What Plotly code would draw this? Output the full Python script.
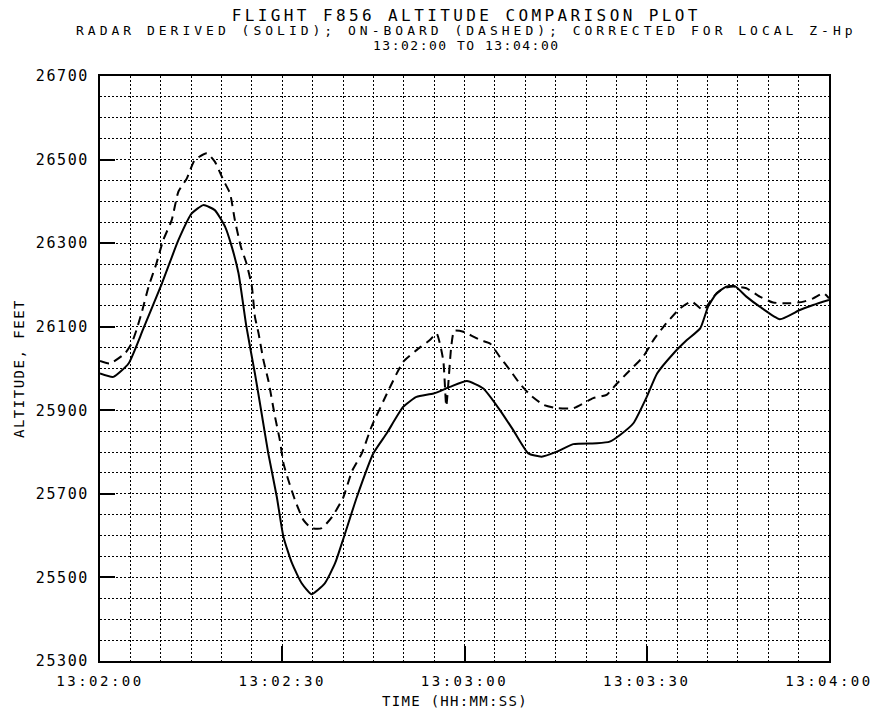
import plotly.graph_objects as go

# radar derived altitude (solid), seconds after 13:02:00
radar_t = [0, 2.2, 4.7, 7.1, 10.2, 12.9, 15.1, 17.0, 18.9, 20.6,
           21.7, 22.8, 24.1, 25.5, 26.6, 27.7, 29.1, 30.2, 31.6, 33.2,
           34.8, 37.0, 38.7, 40.0, 42.3, 45.0, 47.2, 49.9, 52.1, 54.9,
           57.6, 60.4, 63.1, 65.8, 68.0, 70.5, 72.7, 75.2, 77.9, 81.8,
           83.9, 85.6, 87.8, 90.0, 91.7, 94.4, 96.6, 98.8, 100.1, 101.5,
           103.1, 104.5, 106.4, 108.6, 111.9, 115.2, 117.4, 120]
radar_alt = [25988, 25980, 26012, 26094, 26204, 26307, 26371, 26391, 26379, 26339,
             26291, 26228, 26100, 25988, 25893, 25797, 25693, 25597, 25534, 25486,
             25460, 25486, 25534, 25590, 25693, 25797, 25845, 25908, 25932, 25940,
             25956, 25970, 25952, 25901, 25853, 25797, 25789, 25801, 25819, 25821,
             25825, 25841, 25869, 25932, 25988, 26036, 26068, 26096, 26148, 26180,
             26196, 26197, 26172, 26148, 26118, 26140, 26152, 26164]

# on-board altitude (dashed)
board_t = [0, 1.6, 4.1, 5.2, 6.0, 6.9, 8.0, 9.3, 10.4, 11.8,
           12.9, 14.3, 15.6, 17.6, 18.9, 20.3, 21.4, 22.2, 23.2, 24.1,
           25.0, 25.5, 26.1, 26.9, 27.7, 28.8, 29.6, 30.2, 31.0, 32.1,
           33.5, 34.8, 36.5, 38.2, 40.0, 41.5, 43.1, 44.7, 47.5, 49.9,
           52.1, 54.3, 55.4, 56.5, 57.0, 57.8, 58.3, 59.8, 62.6, 64.2,
           65.8, 67.5, 69.1, 70.8, 73.0, 75.2, 77.9, 81.2, 83.4, 85.1,
           86.7, 89.4, 91.1, 93.2, 95.5, 97.4, 99.3, 101.0, 102.6, 104.3,
           106.4, 108.6, 110.8, 113.6, 115.8, 117.4, 119.1, 120]
board_alt = [26018, 26012, 26036, 26060, 26092, 26136, 26196, 26252, 26307, 26355,
             26423, 26455, 26499, 26515, 26495, 26451, 26419, 26355, 26291, 26252,
             26196, 26124, 26084, 26020, 25972, 25885, 25829, 25773, 25733, 25685,
             25637, 25618, 25618, 25645, 25690, 25755, 25797, 25861, 25948, 26016,
             26044, 26068, 26084, 26020, 25910, 26050, 26090, 26088, 26068, 26060,
             26028, 25996, 25964, 25937, 25913, 25905, 25905, 25929, 25937, 25964,
             25988, 26028, 26068, 26108, 26144, 26160, 26140, 26172, 26192, 26196,
             26192, 26172, 26158, 26156, 26160, 26168, 26180, 26168]

x_ticks = [0, 30, 60, 90, 120]
x_labels = ["13:02:00", "13:02:30", "13:03:00", "13:03:30", "13:04:00"]
y_ticks = [25300, 25500, 25700, 25900, 26100, 26300, 26500, 26700]

title_lines = ["FLIGHT F856 ALTITUDE COMPARISON PLOT",
               "RADAR DERIVED (SOLID); ON-BOARD (DASHED); CORRECTED FOR LOCAL Z-Hp",
               "13:02:00 TO 13:04:00"]

FONT = "DejaVu Sans Mono"
PLOT_W, PLOT_H = 729, 585   # plot area in px


def spaced(s, px, size=None):
    st = f"letter-spacing:{px}px"
    if size:
        st += f";font-size:{size}px"
    return f'<span style="{st}">{s}</span>'


def px_x(px):
    # page x pixel -> paper fraction (plot area starts at x=100)
    return (px - 100) / PLOT_W


def px_y(py):
    # page y pixel -> paper fraction (plot area bottom at y=661)
    return (661 - py) / PLOT_H


fig = go.Figure()
fig.add_trace(go.Scatter(x=radar_t, y=radar_alt, mode="lines",
                         line=dict(color="black", width=2, shape="spline", smoothing=0.5)))
fig.add_trace(go.Scatter(x=board_t, y=board_alt, mode="lines",
                         line=dict(color="black", width=2, dash="9px,6px",
                                   shape="spline", smoothing=0.5)))

grid = dict(showgrid=True, gridcolor="black", gridwidth=1, griddash="2px,2px")

fig.update_xaxes(range=[0, 120], tickvals=x_ticks,
                 ticktext=[spaced(s, 2.5) for s in x_labels],
                 ticks="inside", ticklen=15, tickwidth=1.5, tickcolor="black",
                 ticklabelstandoff=6, automargin=False,
                 showline=True, linecolor="black", linewidth=2, mirror=True,
                 zeroline=False,
                 minor=dict(dtick=5, tick0=0, ticks="", **grid), **grid)
fig.update_yaxes(range=[25300, 26700], tickvals=y_ticks,
                 ticktext=[spaced(str(v), 1.6) for v in y_ticks],
                 tickfont=dict(size=15),
                 ticks="inside", ticklen=15, tickwidth=1.5, tickcolor="black",
                 ticklabelstandoff=6, automargin=False,
                 showline=True, linecolor="black", linewidth=2, mirror=True,
                 zeroline=False,
                 minor=dict(dtick=50, tick0=25300, ticks="", **grid), **grid)

# three title lines in one block, line pitch ~14px
title_text = "<br>".join([
    spaced(title_lines[0], 3.4, 16),
    spaced(title_lines[1], 4.0, 13),
    spaced(title_lines[2], 1.5, 13),
])
fig.add_annotation(text=title_text, xref="paper", yref="paper",
                   x=px_x(466), y=px_y(29.5), showarrow=False, yanchor="middle",
                   align="center",
                   font=dict(family=FONT, size=11, color="black"))

fig.add_annotation(text=spaced("TIME (HH:MM:SS)", 1.3), xref="paper", yref="paper",
                   x=px_x(455), y=px_y(701), showarrow=False, yanchor="middle",
                   font=dict(family=FONT, size=14, color="black"))
fig.add_annotation(text=spaced("ALTITUDE, FEET", 1.5), xref="paper", yref="paper",
                   x=px_x(19), y=px_y(369), showarrow=False, textangle=-90,
                   xanchor="center", yanchor="middle",
                   font=dict(family=FONT, size=14, color="black"))

fig.update_layout(
    width=876, height=712,
    margin=dict(l=100, r=47, t=76, b=51),
    paper_bgcolor="white", plot_bgcolor="white",
    showlegend=False,
    font=dict(family=FONT, size=14, color="black"),
)

# drop the browser's default 8px body margin so the figure fills the window
fig.write_html("out.html", config={"displayModeBar": False},
               post_script="document.body.style.margin='0';")
